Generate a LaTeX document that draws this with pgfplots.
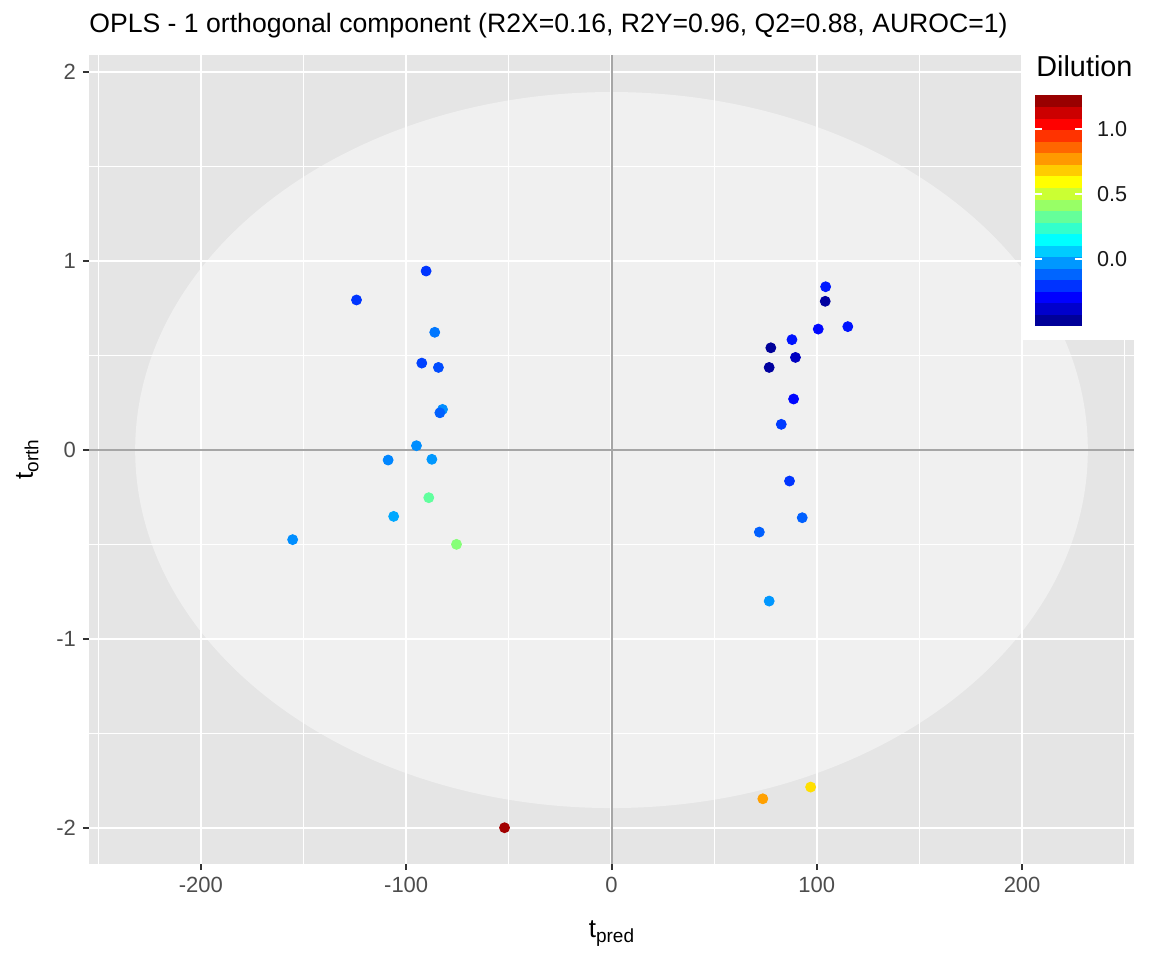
\documentclass[border=0pt]{standalone}
\usepackage{pgfplots}
\pgfplotsset{compat=1.18}
\usepackage{pgfplotstable}
\usepackage{fontspec}
\setmainfont{Liberation Sans}
\definecolor{panelbg}{HTML}{E5E5E5}
\definecolor{refline}{HTML}{A6A6A6}
\definecolor{tickgray}{HTML}{333333}
\definecolor{labgray}{HTML}{4D4D4D}

\pgfplotstableread{
x y c
-124.2 0.794 -0.20
-90.3 0.947 -0.20
-86.1 0.623 -0.085
-92.4 0.460 -0.18
-84.3 0.437 -0.16
-82.3 0.215 -0.045
-83.6 0.197 -0.125
-95.0 0.023 -0.045
-108.8 -0.053 -0.058
-87.5 -0.049 -0.027
-89.0 -0.252 0.32
-106.1 -0.351 0.0
-155.3 -0.474 -0.045
-75.5 -0.499 0.385
-52.1 -1.998 1.20
104.3 0.864 -0.25
104.1 0.787 -0.46
115.1 0.653 -0.26
100.7 0.640 -0.28
87.9 0.584 -0.26
77.6 0.541 -0.47
89.6 0.490 -0.40
76.8 0.437 -0.46
88.7 0.270 -0.28
82.7 0.136 -0.19
86.7 -0.164 -0.20
92.9 -0.358 -0.125
72.0 -0.434 -0.125
76.8 -0.799 -0.03
73.7 -1.845 0.76
97.0 -1.783 0.65
}\scores

\begin{document}
\begin{tikzpicture}
\useasboundingbox (0,0) rectangle (576pt,480pt);
\begin{axis}[
  at={(44.5pt,48pt)}, anchor=south west,
  scale only axis, width=522.5pt, height=404.5pt,
  xmin=-254.5, xmax=254.5, ymin=-2.19, ymax=2.09,
  clip=false,
  axis background/.style={fill=panelbg},
  axis line style={draw=none},
  xtick={-200,-100,0,100,200},
  xticklabels={-200,-100,0,100,200},
  ytick={-2,-1,0,1,2},
  yticklabels={-2,-1,0,1,2},
  minor xtick={-250,-150,-50,50,150,250},
  minor ytick={-1.5,-0.5,0.5,1.5},
  grid=both,
  major grid style={white, line width=1.1pt},
  minor grid style={white, line width=0.55pt},
  tick pos=left,
  tick align=outside,
  major tick length=3pt, minor tick length=0pt,
  major tick style={tickgray, line width=1pt},
  ticklabel style={font=\fontsize{11}{13}\selectfont, text=labgray},
  title={OPLS - 1 orthogonal component (R2X=0.16, R2Y=0.96, Q2=0.88, AUROC=1)},
  every axis title/.style={at={(axis description cs:0,1)}, anchor=base west, yshift=11pt, font=\fontsize{13.3}{15}\selectfont, inner sep=0pt},
  xlabel={t\raisebox{-0.4ex}{\fontsize{9.5}{11}\selectfont pred}},
  ylabel={t\raisebox{-0.4ex}{\fontsize{9.5}{11}\selectfont orth}},
  every axis x label/.style={at={(axis description cs:0.5,-0.0905)}, anchor=base, font=\fontsize{13}{15}\selectfont, inner sep=0pt},
  every axis y label/.style={at={(axis description cs:-0.0536,0.5)}, rotate=90, anchor=base, font=\fontsize{13}{15}\selectfont, inner sep=0pt},
  colormap={myjet}{rgb255(0)=(0,0,127) rgb255(1)=(0,0,255) rgb255(2)=(0,127,255) rgb255(3)=(0,255,255) rgb255(4)=(127,255,127) rgb255(5)=(255,255,0) rgb255(6)=(255,127,0) rgb255(7)=(255,0,0) rgb255(8)=(127,0,0)},
  point meta min=-0.515, point meta max=1.26,
  colorbar sampled,
  colorbar style={
    at={(parent axis.north east)}, anchor=north west,
    xshift=-58pt, yshift=-20pt,
    scale only axis, width=23.5pt, height=115.5pt,
    samples=21,
    ytick={0,0.5,1}, yticklabels={0.0,0.5,1.0},
    axis line style={draw=none},
    ytick pos=both, yticklabel pos=right,
    tick align=inside,
    major tick length=3.5pt,
    major tick style={white, line width=0.8pt},
    yticklabel style={font=\fontsize{10.8}{12}\selectfont, text=black!90, xshift=4pt},
  },
]
\fill[white, fill opacity=0.45] (axis cs:0,0) ellipse [x radius=232, y radius=1.894];
\draw[refline, line width=1pt] (axis cs:0,-2.19) -- (axis cs:0,2.09);
\draw[refline, line width=1pt] (axis cs:-254.5,0) -- (axis cs:254.5,0);
\addplot[scatter, only marks, mark=*, mark size=2.5pt,
  scatter/use mapped color={draw=mapped color, fill=mapped color},
  point meta=explicit] table[x=x, y=y, meta=c] {\scores};
\fill[white] (rel axis cs:0.8919,0.6477) rectangle (rel axis cs:1.03,1.07);
\end{axis}
\node[anchor=base west, font=\fontsize{14.4}{16}\selectfont, inner sep=0pt] at (518pt,441.7pt) {Dilution};
\end{tikzpicture}
\end{document}
